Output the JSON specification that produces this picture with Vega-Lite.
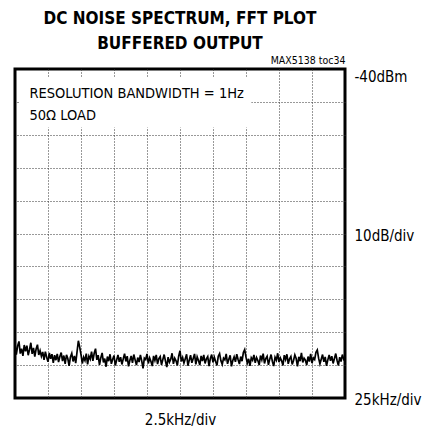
{
  "$schema": "https://vega.github.io/schema/vega-lite/v6.json",
  "width": 330,
  "height": 329,
  "autosize": {"type": "none"},
  "padding": {"left": 15, "top": 69, "right": 90, "bottom": 34},
  "background": "white",
  "config": {
    "view": {"stroke": "black", "strokeWidth": 3},
    "font": "DejaVu Sans Condensed, DejaVu Sans",
    "axis": {"labelFont": "DejaVu Sans Condensed, DejaVu Sans", "titleFont": "DejaVu Sans Condensed, DejaVu Sans", "labelColor": "black", "titleColor": "black", "titleFontWeight": "normal"}
  },
  "resolve": {"axis": {"x": "independent", "y": "independent"}},
  "title": {
    "text": ["DC NOISE SPECTRUM, FFT PLOT", "BUFFERED OUTPUT"],
    "font": "DejaVu Sans Condensed, DejaVu Sans",
    "fontWeight": "bold",
    "fontSize": 17,
    "lineHeight": 25,
    "anchor": "middle",
    "frame": "group",
    "baseline": "alphabetic",
    "offset": -11,
    "color": "black"
  },
  "datasets": {
    "spectrum": [
      {"f":0.0,"dbm":-123.5},{"f":0.1,"dbm":-126.8},{"f":0.2,"dbm":-124.2},{"f":0.3,"dbm":-122.8},{"f":0.4,"dbm":-126.5},{"f":0.5,"dbm":-125.0},{"f":0.6,"dbm":-127.2},{"f":0.7,"dbm":-123.9},{"f":0.8,"dbm":-125.8},{"f":0.9,"dbm":-124.1},
      {"f":1.0,"dbm":-127.0},{"f":1.1,"dbm":-125.3},{"f":1.2,"dbm":-123.2},{"f":1.3,"dbm":-126.6},{"f":1.4,"dbm":-124.8},{"f":1.5,"dbm":-127.4},{"f":1.6,"dbm":-125.1},{"f":1.7,"dbm":-123.8},{"f":1.8,"dbm":-126.9},{"f":1.9,"dbm":-125.6},
      {"f":2.0,"dbm":-127.3},{"f":2.1,"dbm":-126.0},{"f":2.2,"dbm":-128.4},{"f":2.3,"dbm":-125.9},{"f":2.4,"dbm":-127.6},{"f":2.5,"dbm":-129.0},{"f":2.6,"dbm":-126.3},{"f":2.7,"dbm":-128.1},{"f":2.8,"dbm":-126.7},{"f":2.9,"dbm":-129.3},
      {"f":3.0,"dbm":-127.0},{"f":3.1,"dbm":-128.5},{"f":3.2,"dbm":-126.6},{"f":3.3,"dbm":-129.1},{"f":3.4,"dbm":-127.4},{"f":3.5,"dbm":-126.2},{"f":3.6,"dbm":-128.8},{"f":3.7,"dbm":-127.1},{"f":3.8,"dbm":-129.6},{"f":3.9,"dbm":-126.9},
      {"f":4.0,"dbm":-128.0},{"f":4.1,"dbm":-130.2},{"f":4.2,"dbm":-127.5},{"f":4.3,"dbm":-126.4},{"f":4.4,"dbm":-128.9},{"f":4.5,"dbm":-127.2},{"f":4.6,"dbm":-129.4},{"f":4.7,"dbm":-126.0},{"f":4.8,"dbm":-122.6},{"f":4.9,"dbm":-124.5},
      {"f":5.0,"dbm":-126.8},{"f":5.1,"dbm":-129.5},{"f":5.2,"dbm":-127.6},{"f":5.3,"dbm":-128.6},{"f":5.4,"dbm":-126.5},{"f":5.5,"dbm":-129.8},{"f":5.6,"dbm":-127.3},{"f":5.7,"dbm":-128.2},{"f":5.8,"dbm":-125.9},{"f":5.9,"dbm":-128.7},
      {"f":6.0,"dbm":-126.4},{"f":6.1,"dbm":-125.0},{"f":6.2,"dbm":-128.4},{"f":6.3,"dbm":-127.0},{"f":6.4,"dbm":-129.9},{"f":6.5,"dbm":-127.8},{"f":6.6,"dbm":-126.3},{"f":6.7,"dbm":-129.2},{"f":6.8,"dbm":-128.0},{"f":6.9,"dbm":-130.5},
      {"f":7.0,"dbm":-127.4},{"f":7.1,"dbm":-128.8},{"f":7.2,"dbm":-126.7},{"f":7.3,"dbm":-129.6},{"f":7.4,"dbm":-128.2},{"f":7.5,"dbm":-127.1},{"f":7.6,"dbm":-130.1},{"f":7.7,"dbm":-128.5},{"f":7.8,"dbm":-126.9},{"f":7.9,"dbm":-129.0},
      {"f":8.0,"dbm":-127.6},{"f":8.1,"dbm":-129.8},{"f":8.2,"dbm":-128.1},{"f":8.3,"dbm":-126.5},{"f":8.4,"dbm":-128.9},{"f":8.5,"dbm":-127.3},{"f":8.6,"dbm":-130.4},{"f":8.7,"dbm":-128.6},{"f":8.8,"dbm":-127.2},{"f":8.9,"dbm":-129.3},
      {"f":9.0,"dbm":-126.8},{"f":9.1,"dbm":-128.4},{"f":9.2,"dbm":-130.0},{"f":9.3,"dbm":-127.7},{"f":9.4,"dbm":-129.1},{"f":9.5,"dbm":-126.9},{"f":9.6,"dbm":-128.7},{"f":9.7,"dbm":-131.0},{"f":9.8,"dbm":-127.9},{"f":9.9,"dbm":-128.3},
      {"f":10.0,"dbm":-126.6},{"f":10.1,"dbm":-129.5},{"f":10.2,"dbm":-127.8},{"f":10.3,"dbm":-128.9},{"f":10.4,"dbm":-130.3},{"f":10.5,"dbm":-127.2},{"f":10.6,"dbm":-128.6},{"f":10.7,"dbm":-126.9},{"f":10.8,"dbm":-129.7},{"f":10.9,"dbm":-128.0},
      {"f":11.0,"dbm":-127.4},{"f":11.1,"dbm":-129.9},{"f":11.2,"dbm":-128.3},{"f":11.3,"dbm":-126.8},{"f":11.4,"dbm":-128.8},{"f":11.5,"dbm":-130.6},{"f":11.6,"dbm":-127.6},{"f":11.7,"dbm":-129.1},{"f":11.8,"dbm":-128.2},{"f":11.9,"dbm":-126.4},
      {"f":12.0,"dbm":-129.6},{"f":12.1,"dbm":-127.9},{"f":12.2,"dbm":-128.7},{"f":12.3,"dbm":-130.1},{"f":12.4,"dbm":-127.3},{"f":12.5,"dbm":-125.6},{"f":12.6,"dbm":-128.9},{"f":12.7,"dbm":-127.7},{"f":12.8,"dbm":-129.4},{"f":12.9,"dbm":-128.1},
      {"f":13.0,"dbm":-126.7},{"f":13.1,"dbm":-130.2},{"f":13.2,"dbm":-128.5},{"f":13.3,"dbm":-127.0},{"f":13.4,"dbm":-129.3},{"f":13.5,"dbm":-128.0},{"f":13.6,"dbm":-126.6},{"f":13.7,"dbm":-129.8},{"f":13.8,"dbm":-127.5},{"f":13.9,"dbm":-128.6},
      {"f":14.0,"dbm":-130.0},{"f":14.1,"dbm":-127.2},{"f":14.2,"dbm":-128.8},{"f":14.3,"dbm":-126.9},{"f":14.4,"dbm":-129.5},{"f":14.5,"dbm":-128.1},{"f":14.6,"dbm":-127.4},{"f":14.7,"dbm":-130.3},{"f":14.8,"dbm":-128.0},{"f":14.9,"dbm":-126.8},
      {"f":15.0,"dbm":-129.2},{"f":15.1,"dbm":-127.6},{"f":15.2,"dbm":-128.9},{"f":15.3,"dbm":-130.1},{"f":15.4,"dbm":-127.3},{"f":15.5,"dbm":-126.5},{"f":15.6,"dbm":-128.7},{"f":15.7,"dbm":-129.8},{"f":15.8,"dbm":-127.9},{"f":15.9,"dbm":-128.4},
      {"f":16.0,"dbm":-126.6},{"f":16.1,"dbm":-129.6},{"f":16.2,"dbm":-128.2},{"f":16.3,"dbm":-127.0},{"f":16.4,"dbm":-130.4},{"f":16.5,"dbm":-128.6},{"f":16.6,"dbm":-127.5},{"f":16.7,"dbm":-129.0},{"f":16.8,"dbm":-126.7},{"f":16.9,"dbm":-128.3},
      {"f":17.0,"dbm":-129.7},{"f":17.1,"dbm":-127.4},{"f":17.2,"dbm":-128.8},{"f":17.3,"dbm":-126.2},{"f":17.4,"dbm":-125.3},{"f":17.5,"dbm":-127.6},{"f":17.6,"dbm":-129.4},{"f":17.7,"dbm":-128.1},{"f":17.8,"dbm":-130.2},{"f":17.9,"dbm":-127.8},
      {"f":18.0,"dbm":-128.5},{"f":18.1,"dbm":-126.9},{"f":18.2,"dbm":-129.3},{"f":18.3,"dbm":-127.7},{"f":18.4,"dbm":-128.6},{"f":18.5,"dbm":-130.0},{"f":18.6,"dbm":-127.1},{"f":18.7,"dbm":-128.4},{"f":18.8,"dbm":-126.5},{"f":18.9,"dbm":-129.5},
      {"f":19.0,"dbm":-128.0},{"f":19.1,"dbm":-127.3},{"f":19.2,"dbm":-129.9},{"f":19.3,"dbm":-128.2},{"f":19.4,"dbm":-126.8},{"f":19.5,"dbm":-128.9},{"f":19.6,"dbm":-130.3},{"f":19.7,"dbm":-127.6},{"f":19.8,"dbm":-128.5},{"f":19.9,"dbm":-126.4},
      {"f":20.0,"dbm":-129.1},{"f":20.1,"dbm":-127.8},{"f":20.2,"dbm":-128.7},{"f":20.3,"dbm":-130.1},{"f":20.4,"dbm":-127.0},{"f":20.5,"dbm":-128.3},{"f":20.6,"dbm":-126.7},{"f":20.7,"dbm":-129.6},{"f":20.8,"dbm":-128.1},{"f":20.9,"dbm":-127.4},
      {"f":21.0,"dbm":-129.8},{"f":21.1,"dbm":-128.6},{"f":21.2,"dbm":-126.9},{"f":21.3,"dbm":-128.0},{"f":21.4,"dbm":-130.4},{"f":21.5,"dbm":-127.5},{"f":21.6,"dbm":-128.8},{"f":21.7,"dbm":-126.3},{"f":21.8,"dbm":-129.2},{"f":21.9,"dbm":-127.9},
      {"f":22.0,"dbm":-128.5},{"f":22.1,"dbm":-130.0},{"f":22.2,"dbm":-127.4},{"f":22.3,"dbm":-128.9},{"f":22.4,"dbm":-126.6},{"f":22.5,"dbm":-129.4},{"f":22.6,"dbm":-127.8},{"f":22.7,"dbm":-128.3},{"f":22.8,"dbm":-126.1},{"f":22.9,"dbm":-125.4},
      {"f":23.0,"dbm":-127.9},{"f":23.1,"dbm":-129.6},{"f":23.2,"dbm":-128.2},{"f":23.3,"dbm":-126.8},{"f":23.4,"dbm":-129.0},{"f":23.5,"dbm":-127.5},{"f":23.6,"dbm":-130.2},{"f":23.7,"dbm":-128.4},{"f":23.8,"dbm":-126.9},{"f":23.9,"dbm":-128.7},
      {"f":24.0,"dbm":-127.3},{"f":24.1,"dbm":-129.5},{"f":24.2,"dbm":-128.0},{"f":24.3,"dbm":-126.5},{"f":24.4,"dbm":-128.6},{"f":24.5,"dbm":-130.1},{"f":24.6,"dbm":-127.6},{"f":24.7,"dbm":-128.9},{"f":24.8,"dbm":-126.8},{"f":24.9,"dbm":-128.2},
      {"f":25.0,"dbm":-127.5}
    ],
    "note": [
      {"f0": 0.35, "f1": 17.9, "d0": -42.4, "d1": -57.8, "fx": 1.1, "d1a": -48.8, "d2a": -55.6, "t1": "RESOLUTION BANDWIDTH = 1Hz", "t2": "50Ω LOAD"}
    ]
  },
  "layer": [
    {
      "data": {"name": "spectrum"},
      "mark": {"type": "line", "color": "black", "strokeWidth": 1.7, "clip": true},
      "encoding": {
        "x": {
          "field": "f", "type": "quantitative",
          "scale": {"domain": [0, 25], "nice": false, "zero": false},
          "axis": {
            "orient": "bottom",
            "values": [0, 2.5, 5, 7.5, 10, 12.5, 15, 17.5, 20, 22.5, 25],
            "labels": false, "ticks": false, "domain": false,
            "grid": true, "gridColor": "#333", "gridDash": [1, 2], "gridWidth": 1,
            "gridOpacity": {"condition": {"test": "datum.value == 0 || datum.value == 25", "value": 0}, "value": 1},
            "title": "2.5kHz/div", "titleFontSize": 15, "titlePadding": 14
          }
        },
        "y": {
          "field": "dbm", "type": "quantitative",
          "scale": {"domain": [-140, -40], "nice": false, "zero": false},
          "axis": {
            "orient": "right",
            "values": [-40, -50, -60, -70, -80, -90, -100, -110, -120, -130, -140],
            "labelExpr": "datum.value == -40 ? '-40dBm' : datum.value == -90 ? '10dB/div' : datum.value == -140 ? '25kHz/div' : ''",
            "labelFontSize": 15, "labelPadding": 9, "labelBaseline": "middle", "labelOverlap": false,
            "labelOffset": {"condition": {"test": "datum.value == -40", "value": 7}, "value": 1.5},
            "ticks": false, "domain": false,
            "grid": true, "gridColor": "#333", "gridDash": [1, 2], "gridWidth": 1,
            "gridOpacity": {"condition": {"test": "datum.value == -40 || datum.value == -140", "value": 0}, "value": 1},
            "title": null
          }
        }
      }
    },
    {
      "data": {"name": "note"},
      "mark": {"type": "rect", "color": "white"},
      "encoding": {
        "x": {"field": "f0", "type": "quantitative", "axis": {"orient": "top", "labels": false, "ticks": false, "domain": false, "grid": false, "title": "MAX5138 toc34", "titleAnchor": "end", "titleFontSize": 10.5, "titlePadding": 4}},
        "x2": {"field": "f1"},
        "y": {"field": "d0", "type": "quantitative", "axis": null},
        "y2": {"field": "d1"}
      }
    },
    {
      "data": {"name": "note"},
      "mark": {"type": "text", "align": "left", "baseline": "alphabetic", "fontSize": 14.5, "color": "black"},
      "encoding": {
        "x": {"field": "fx", "type": "quantitative", "axis": null},
        "y": {"field": "d1a", "type": "quantitative", "axis": null},
        "text": {"field": "t1"}
      }
    },
    {
      "data": {"name": "note"},
      "mark": {"type": "text", "align": "left", "baseline": "alphabetic", "fontSize": 14.5, "color": "black"},
      "encoding": {
        "x": {"field": "fx", "type": "quantitative", "axis": null},
        "y": {"field": "d2a", "type": "quantitative", "axis": null},
        "text": {"field": "t2"}
      }
    }
  ]
}
